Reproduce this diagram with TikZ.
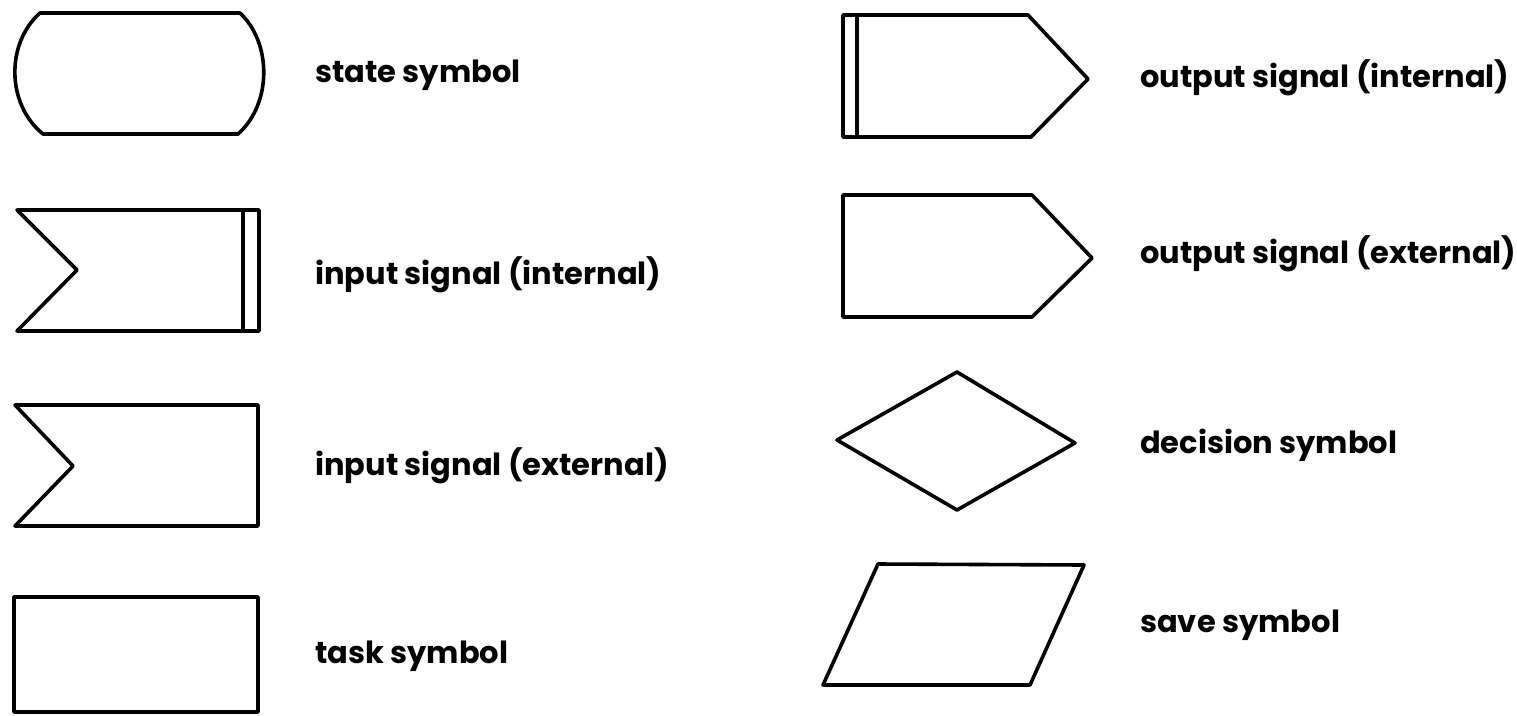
\documentclass[tikz,border=0pt]{standalone}
\usepackage{fontspec}
\setmainfont{Poppins}
\begin{document}
\begin{tikzpicture}[x=1pt,y=-1pt,
  shp/.style={draw=black,line width=3.6pt,line join=round},
  lbl/.style={anchor=base west,inner sep=0pt,font=\fontsize{30.5}{36}\selectfont\bfseries}]
\useasboundingbox[fill=white] (0,0) rectangle (1517,715);
% state symbol
\draw[shp] (40,13) -- (240,13) .. controls (272,43) and (272,104) .. (238,134)
  -- (43,134) .. controls (6,104) and (6,43) .. cycle;
% input signal (internal)
\draw[shp] (17,210) -- (259,210) -- (259,331) -- (17,331) -- (77,270) -- cycle;
\draw[shp] (243,210) -- (243,331);
% input signal (external)
\draw[shp] (15,405) -- (258,405) -- (258,526) -- (15,526) -- (73,466) -- cycle;
% task symbol
\draw[shp] (14,597) rectangle (258,712);
% output signal (internal)
\draw[shp] (843,15) -- (1028,15) -- (1088,79) -- (1031,137) -- (843,137) -- cycle;
\draw[shp] (857,15) -- (857,137);
% output signal (external)
\draw[shp] (843,195) -- (1032,195) -- (1092,258) -- (1032,317) -- (843,317) -- cycle;
% decision symbol
\draw[shp] (837,440) -- (957,372) -- (1075,443) -- (957,510) -- cycle;
% save symbol
\draw[shp] (878,564) -- (1084,565) -- (1030,685) -- (823,685) -- cycle;
% labels
\node[lbl] (l1) at (315,82) {state symbol};
\node[lbl] (l2) at (315,284) {input signal (internal)};
\node[lbl] (l3) at (315,475) {input signal (external)};
\node[lbl] (l4) at (315,663) {task symbol};
\node[lbl] (r1) at (1140,87) {output signal (internal)};
\node[lbl] (r2) at (1140,263) {output signal (external)};
\node[lbl] (r3) at (1140,453) {decision symbol};
\node[lbl] (r4) at (1140,632) {save symbol};
\end{tikzpicture}
\end{document}
